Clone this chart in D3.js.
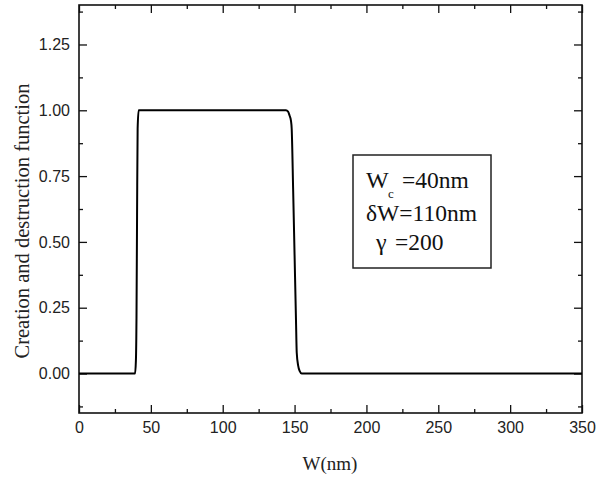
<!DOCTYPE html>
<html>
<head>
<meta charset="utf-8">
<script src="https://cdn.jsdelivr.net/npm/d3@7"></script>
<style>
  html, body { margin: 0; padding: 0; background: #fff; }
  svg { display: block; }
</style>
</head>
<body>
<script>
// ---- data ----
const wValues = [0, 39, 39.6, 40, 40.4, 40.8, 41.5, 144, 145.5, 146.5, 147.5, 148, 149, 150, 151, 151.5, 152.5, 153.5, 155, 350];
const fValues = [0, 0, 0.05, 0.21, 0.6, 0.93, 1, 1, 0.995, 0.98, 0.96, 0.93, 0.70, 0.45, 0.20, 0.08, 0.03, 0.01, 0, 0];
const xMajorTicks = [0, 50, 100, 150, 200, 250, 300, 350];
const xMinorTicks = [25, 75, 125, 175, 225, 275, 325];
const yMajorTicks = [0, 0.25, 0.5, 0.75, 1.0, 1.25];
const yMinorTicks = [-0.125, 0.125, 0.375, 0.625, 0.875, 1.125, 1.375];
const xDomain = [0, 350];
const yDomain = [-0.15, 1.4];
const xTitle = "W(nm)";
const yTitle = "Creation and destruction function";

const width = 600, height = 477;
const m = { left: 79, top: 5, right: 18, bottom: 64 };
const pw = width - m.left - m.right, ph = height - m.top - m.bottom;

const svg = d3.select("body").append("svg").attr("width", width).attr("height", height);
const g = svg.append("g").attr("transform", `translate(${m.left},${m.top})`);

const x = d3.scaleLinear().domain(xDomain).range([0, pw]);
const y = d3.scaleLinear().domain(yDomain).range([ph, 0]);

const tickFont = "'Liberation Sans', Arial, sans-serif";
const serif = "'Liberation Serif', 'Times New Roman', serif";

function styleAxis(sel) {
  sel.select(".domain").remove();
  sel.selectAll("line").attr("stroke", "#111").attr("stroke-width", 1.3);
  sel.selectAll("text").attr("font-family", tickFont).attr("font-size", 16).attr("fill", "#222");
}

// bottom axis (labels) - ticks inward
g.append("g").attr("transform", `translate(0,${ph})`)
  .call(d3.axisBottom(x).tickValues(xMajorTicks).tickSize(-8).tickPadding(9).tickFormat(d3.format("d")))
  .call(styleAxis);
g.append("g").attr("transform", `translate(0,${ph})`)
  .call(d3.axisBottom(x).tickValues(xMinorTicks).tickSize(-4).tickFormat(""))
  .call(styleAxis);
// top axis mirror
g.append("g")
  .call(d3.axisTop(x).tickValues(xMajorTicks).tickSize(-8).tickFormat(""))
  .call(styleAxis);
g.append("g")
  .call(d3.axisTop(x).tickValues(xMinorTicks).tickSize(-4).tickFormat(""))
  .call(styleAxis);
// left axis
g.append("g")
  .call(d3.axisLeft(y).tickValues(yMajorTicks).tickSize(-8).tickPadding(9).tickFormat(d3.format(".2f")))
  .call(styleAxis);
g.append("g")
  .call(d3.axisLeft(y).tickValues(yMinorTicks).tickSize(-4).tickFormat(""))
  .call(styleAxis);
// right axis mirror
g.append("g").attr("transform", `translate(${pw},0)`)
  .call(d3.axisRight(y).tickValues(yMajorTicks).tickSize(-8).tickFormat(""))
  .call(styleAxis);
g.append("g").attr("transform", `translate(${pw},0)`)
  .call(d3.axisRight(y).tickValues(yMinorTicks).tickSize(-4).tickFormat(""))
  .call(styleAxis);

// frame
g.append("rect").attr("x", 0).attr("y", 0).attr("width", pw).attr("height", ph)
  .attr("fill", "none").attr("stroke", "#111").attr("stroke-width", 1.6);

// curve
const pts = wValues.map((w, i) => [w, fValues[i]]);
g.append("path").datum(pts)
  .attr("fill", "none").attr("stroke", "#000").attr("stroke-width", 2)
  .attr("stroke-linejoin", "round")
  .attr("d", d3.line().x(d => x(d[0])).y(d => y(d[1])).curve(d3.curveMonotoneX));

// axis titles
svg.append("text").attr("x", 330).attr("y", 470).attr("text-anchor", "middle")
  .attr("font-family", serif).attr("font-size", 19).attr("fill", "#222").text(xTitle);
svg.append("text").attr("transform", "translate(29,221) rotate(-90)").attr("text-anchor", "middle")
  .attr("font-family", serif).attr("font-size", 20.5).attr("fill", "#222").text(yTitle);

// legend box
const lg = svg.append("g");
lg.append("rect").attr("x", 353).attr("y", 155).attr("width", 138).attr("height", 113)
  .attr("fill", "#fff").attr("stroke", "#222").attr("stroke-width", 1.5);
const lt = (xx, yy, s, fs) => lg.append("text").attr("x", xx).attr("y", yy)
  .attr("font-family", serif).attr("font-size", fs).attr("fill", "#111").text(s);
lt(366, 188, "W", 24);
lt(388, 198, "c", 13);
lt(402, 188, "=40nm", 23.5);
lt(366, 221, "δW=110nm", 23.5);
lt(376, 250, "γ", 24);
lt(395, 250, "=200", 23.5);
</script>
</body>
</html>
